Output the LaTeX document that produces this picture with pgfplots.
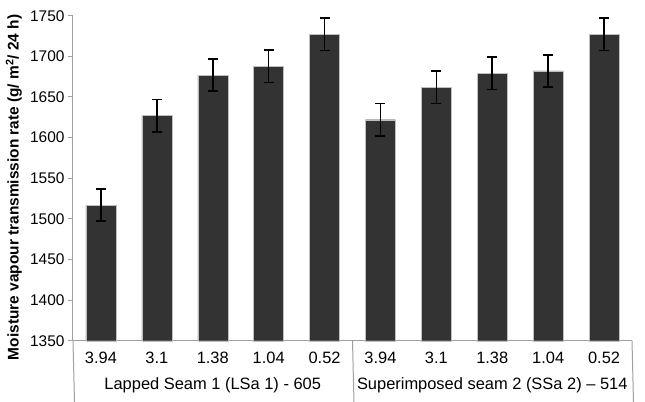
\documentclass[border=0pt]{standalone}
\usepackage{fontspec}
\setmainfont{Liberation Sans}
\usepackage{pgfplots}
\pgfplotsset{compat=1.18}
\definecolor{barfill}{HTML}{333333}
\definecolor{axgray}{HTML}{A0A0A0}
\begin{document}
\begin{tikzpicture}
\useasboundingbox (-73bp,-61.3bp) rectangle (572bp,340.7bp);
\begin{axis}[
  at={(0,0)}, anchor=south west,
  scale only axis, width=559bp, height=325bp,
  xmin=-0.5, xmax=9.5, ymin=1350, ymax=1750,
  ytick={1350,1400,...,1750},
  xtick={0,...,9},
  xticklabels={3.94,3.1,1.38,1.04,0.52,3.94,3.1,1.38,1.04,0.52},
  axis x line=bottom, axis y line=left,
  x axis line style={-}, y axis line style={-},
  axis line style={axgray, line width=1bp},
  ytick style={axgray, line width=1bp},
  tick align=outside, major tick length=5bp,
  xtick style={draw=none},
  yticklabel style={font=\fontsize{15.5}{18}\selectfont, /pgf/number format/1000 sep={}},
  xticklabel style={font=\fontsize{16.5}{19}\selectfont, yshift=-3bp},
  /pgf/number format/assume math mode=true,
  ylabel={\bfseries Moisture vapour transmission rate (g/ m\textsuperscript{2}/ 24 h)},
  ylabel style={at={(axis description cs:-0.1058,0.472)}, anchor=center, font=\fontsize{15.5}{18}\selectfont},
  clip=false,
]
\addplot[ybar, bar width=30bp, fill=barfill, draw=gray!50,
  error bars/.cd, y dir=both, y explicit,
  error bar style={black, line width=1.6bp},
  error mark options={rotate=90, mark size=5bp, black, line width=1.6bp}]
  table[x=x, y=y, y error=e] {
x y e
0 1517 20
1 1627 20
2 1677 20
3 1688 20
4 1727 20
5 1622 20
6 1662 20
7 1679 20
8 1682 20
9 1727 20
};
\draw[axgray, line width=1bp] (axis cs:-0.5,1350) -- ++(0,-61.3bp);
\draw[axgray, line width=1bp] (axis cs:4.5,1350) -- ++(0,-61.3bp);
\draw[axgray, line width=1bp] (axis cs:9.5,1350) -- ++(0,-61.3bp);
\node[font=\fontsize{16.5}{19}\selectfont] at (axis cs:2,1350) [yshift=-45bp] {Lapped Seam 1 (LSa 1) - 605};
\node[font=\fontsize{16.5}{19}\selectfont] at (axis cs:7,1350) [yshift=-45bp] {Superimposed seam 2 (SSa 2) -- 514};
\end{axis}
\end{tikzpicture}
\end{document}
